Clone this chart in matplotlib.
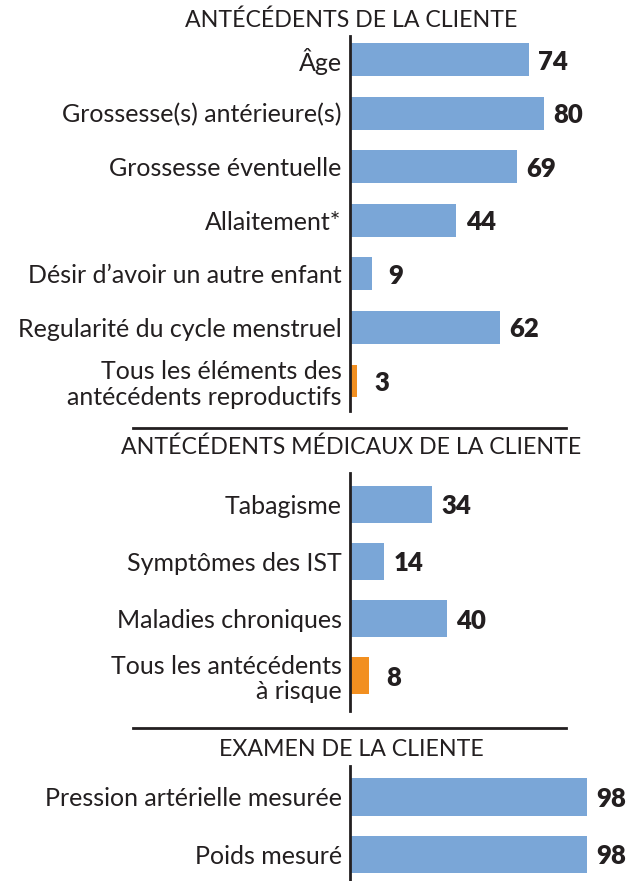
import matplotlib
matplotlib.use("Agg")
from matplotlib import pyplot as plt
from matplotlib.lines import Line2D

plt.rcParams['font.family'] = ['Lato', 'DejaVu Sans']

headers = ["ANTÉCÉDENTS DE LA CLIENTE",
           "ANTÉCÉDENTS MÉDICAUX DE LA CLIENTE",
           "EXAMEN DE LA CLIENTE"]

labels_1 = ["Âge", "Grossesse(s) antérieure(s)", "Grossesse éventuelle",
            "Allaitement*", "Désir d’avoir un autre enfant",
            "Regularité du cycle menstruel",
            "Tous les éléments des\nantécédents reproductifs"]
values_1 = [74, 80, 69, 44, 9, 62, 3]

labels_2 = ["Tabagisme", "Symptômes des IST", "Maladies chroniques",
            "Tous les antécédents\nà risque"]
values_2 = [34, 14, 40, 8]

labels_3 = ["Pression artérielle mesurée", "Poids mesuré"]
values_3 = [98, 98]

# rows that summarise the whole section are drawn in orange
total_rows = ["Tous les éléments des\nantécédents reproductifs",
              "Tous les antécédents\nà risque"]

blue = "#7aa6d7"
orange = "#f28f20"
ink = "#231f20"

W, H = 637, 881
fig = plt.figure(figsize=(W / 100, H / 100), dpi=100)

def section(labels, values, top, bottom, pad_top, pad_bottom, bar_h):
    ax = fig.add_axes([350 / W, 1 - bottom / H, 242 / W, (bottom - top) / H])
    pos = list(range(len(labels)))
    colors = [orange if lab in total_rows else blue for lab in labels]
    ax.barh(pos, values, height=bar_h, color=colors, left=0)
    ax.set_xlim(0, 100)
    ax.set_ylim(len(labels) - 1 + pad_bottom, -pad_top)
    ax.set_yticks(pos)
    ax.set_yticklabels(labels, fontsize=18, color=ink, linespacing=1.15)
    ax.tick_params(axis='y', length=0, pad=6)
    ax.set_xticks([])
    for s in ['top', 'right', 'bottom']:
        ax.spines[s].set_visible(False)
    ax.spines['left'].set_color(ink)
    ax.spines['left'].set_linewidth(2)
    ax.patch.set_alpha(0)
    for p, v in zip(pos, values):
        ax.annotate(str(v), xy=(v, p), xytext=(17.5, 0), textcoords='offset points',
                    ha='center', va='center_baseline', fontsize=18.5,
                    fontweight='heavy', color=ink)
    return ax

section(labels_1, values_1, 36, 411, 0.44, 0.56, 0.615)
section(labels_2, values_2, 473, 711, 0.55, 0.62, 0.65)
section(labels_3, values_3, 766, 884, 0.54, 0.52, 0.65)

for y, h in zip([27, 454, 756], headers):
    fig.text(351 / W, 1 - y / H, h, ha='center', va='baseline', fontsize=16.7, color=ink)

for y in [428, 728]:
    fig.add_artist(Line2D([133 / W, 566 / W], [1 - y / H, 1 - y / H],
                          transform=fig.transFigure, color=ink, linewidth=2))

fig.savefig("out.png", dpi=100)
